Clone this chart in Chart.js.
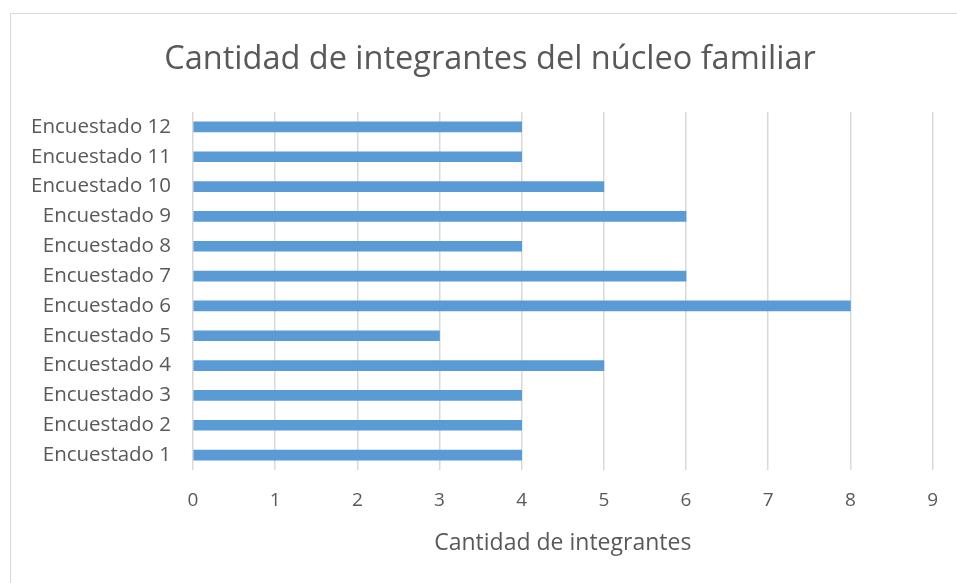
<!DOCTYPE html>
<html>
<head>
<meta charset="utf-8">
<script src="https://cdn.jsdelivr.net/npm/chart.js@4/dist/chart.umd.min.js"></script>
<style>
  html, body { margin: 0; padding: 0; background: #fff; }
  #wrap { position: relative; width: 957px; height: 583px; overflow: hidden; }
  /* frame of the original chart, only top/left edges visible */
  #frame { position: absolute; left: 10px; top: 13px; width: 1200px; height: 900px; border: 1px solid #d9d9d9; }
  canvas { position: absolute; left: 0; top: 0; }
</style>
</head>
<body>
<div id="wrap">
  <div id="frame"></div>
  <canvas id="c" width="957" height="583"></canvas>
</div>
<script>
// data, bottom to top as drawn in the original
const labels = [
  'Encuestado 1', 'Encuestado 2', 'Encuestado 3', 'Encuestado 4',
  'Encuestado 5', 'Encuestado 6', 'Encuestado 7', 'Encuestado 8',
  'Encuestado 9', 'Encuestado 10', 'Encuestado 11', 'Encuestado 12',
]
const integrantes = [4, 4, 4, 5, 3, 8, 6, 4, 6, 5, 4, 4]
const xTicks = [0, 1, 2, 3, 4, 5, 6, 7, 8, 9]

const FONT = "'Open Sans', sans-serif"
const TEXT = '#595959'
const GRID = '#d9d9d9'

// title in the original is centred on the frame, not on the canvas
const shiftTitle = {
  id: 'shiftTitle',
  afterLayout(chart) {
    if (chart.titleBlock) chart.titleBlock.left = 47
  },
}

new Chart(document.getElementById('c'), {
  type: 'bar',
  data: {
    labels,
    datasets: [{
      label: 'Cantidad de integrantes',
      data: integrantes,
      backgroundColor: '#5b9bd5',
      borderWidth: 0,
      barThickness: 10,
    }],
  },
  plugins: [shiftTitle],
  options: {
    indexAxis: 'y',
    responsive: false,
    animation: false,
    layout: { padding: { left: 0, right: 24, top: 0, bottom: 0 } },
    plugins: {
      legend: { display: false },
      tooltip: { enabled: false },
      title: {
        display: true,
        text: 'Cantidad de integrantes del núcleo familiar',
        color: TEXT,
        font: { family: FONT, size: 32.5, weight: 'normal' },
        padding: { top: 40, bottom: 33 },
      },
    },
    scales: {
      x: {
        min: 0,
        max: 9,
        afterBuildTicks: s => { s.ticks = xTicks.map(v => ({ value: v })) },
        afterFit: s => { s.height = 113 },
        border: { display: false },
        grid: { color: GRID, drawTicks: false, lineWidth: 1.5 },
        ticks: { color: TEXT, padding: 19, font: { family: FONT, size: 19 } },
        title: {
          display: true,
          text: 'Cantidad de integrantes',
          color: TEXT,
          font: { family: FONT, size: 23 },
          padding: { top: 0, bottom: 26 },
        },
      },
      y: {
        reverse: true,
        afterFit: s => { s.width = 193 },
        border: { display: false },
        grid: { display: false, drawTicks: false },
        ticks: { color: TEXT, padding: 22, font: { family: FONT, size: 20.5 } },
      },
    },
  },
})
</script>
</body>
</html>
